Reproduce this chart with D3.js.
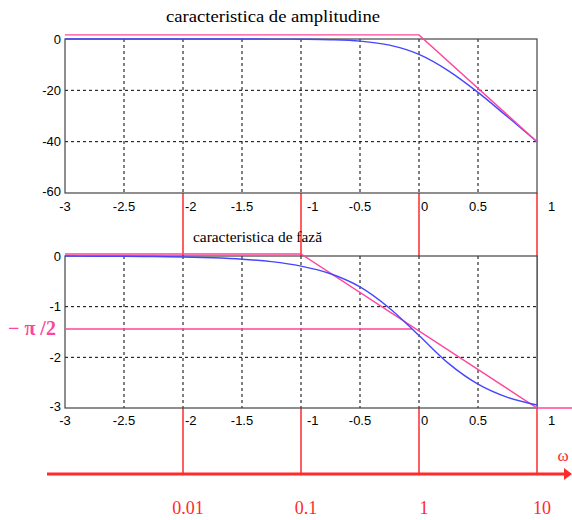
<!DOCTYPE html>
<html>
<head>
<meta charset="utf-8">
<title>Bode</title>
<style>
  body { margin: 0; background: white; }
  svg text { font-family: "Liberation Sans", Arial, sans-serif; }
  .title { font-family: "Liberation Serif", "Times New Roman", serif; }
  .grid line { stroke: #000; stroke-dasharray: 3,3; stroke-width: 1; }
  .tick-label { font-size: 13px; fill: #000; }
</style>
</head>
<body>
<svg id="chart" width="572" height="520"></svg>
<script src="https://cdn.jsdelivr.net/npm/d3@7/dist/d3.min.js"></script>
<script>
// log10(omega) sample points
var logW = [-3, -2.75, -2.5, -2.25, -2, -1.75, -1.5, -1.25, -1, -0.75, -0.5, -0.25, 0, 0.25, 0.5, 0.75, 1];
// amplitude (dB), blue curve
var magDb = [0, 0, 0, 0, 0, 0, -0.01, -0.03, -0.09, -0.27, -0.83, -2.4, -6.0, -12.4, -20.8, -30.3, -40];
// phase (rad), blue curve
var phase = [0, -0.004, -0.006, -0.011, -0.02, -0.036, -0.063, -0.112, -0.2, -0.35, -0.61, -1.03, -1.57, -2.12, -2.53, -2.79, -2.94];

// asymptotes (pink)
var magAsymX = [-3, 0, 1];
var magAsymY = [1.6, 1.6, -40];
var phAsymX = [-3, -1, 1, 1.3];
var phAsymY = [0.04, 0.04, -3, -3];
var halfPiX = [-3, -0.06];
var halfPiY = [-1.44, -1.44];

var xTicks = [-3, -2.5, -2, -1.5, -1, -0.5, 0, 0.5, 1];
var magTicks = [0, -20, -40, -60];
var phTicks = [0, -1, -2, -3];
var decades = [-2, -1, 0, 1];
var decadeLabels = ["0.01", "0.1", "1", "10"];

var red = "#ff2a2a", pink = "#ff449c", blue = "#4646ff", frame = "#444";

var svg = d3.select("#chart");

var x = d3.scaleLinear().domain([-3, 1]).range([65, 537]);
var yMag = d3.scaleLinear().domain([-60, 0]).range([193, 39]);
var yPh = d3.scaleLinear().domain([-3, 0]).range([408, 256]);

// plain hyphen labels like the original figure
var fmt = d => String(d);

// red decade lines (behind the plot areas)
svg.selectAll(".dec").data(decades).enter().append("line")
  .attr("x1", d => x(d)).attr("x2", d => x(d))
  .attr("y1", yMag(-60)).attr("y2", 474)
  .attr("stroke", red).attr("stroke-width", 1.5);

function panel(y, yTicks, labelY, offsets) {
  var g = svg.append("g");
  g.append("rect")
    .attr("x", x(-3)).attr("y", y.range()[1])
    .attr("width", x(1) - x(-3)).attr("height", y.range()[0] - y.range()[1])
    .attr("fill", "white");

  var grid = g.append("g").attr("class", "grid");
  grid.selectAll(".vx").data(xTicks.slice(1, -1)).enter().append("line")
    .attr("x1", d => x(d)).attr("x2", d => x(d))
    .attr("y1", y.range()[1]).attr("y2", y.range()[0]);
  grid.selectAll(".hy").data(yTicks.slice(1, -1)).enter().append("line")
    .attr("x1", x(-3)).attr("x2", x(1))
    .attr("y1", d => y(d)).attr("y2", d => y(d));

  // frame
  g.append("rect")
    .attr("x", x(-3)).attr("y", y.range()[1])
    .attr("width", x(1) - x(-3)).attr("height", y.range()[0] - y.range()[1])
    .attr("fill", "none").attr("stroke", frame).attr("stroke-width", 1.2);

  // y tick labels
  g.selectAll(".yl").data(yTicks).enter().append("text")
    .attr("class", "tick-label")
    .attr("x", x(-3) - 4)
    .attr("y", (d, i) => y(d) + (i == yTicks.length - 1 ? -2 : 0))
    .attr("dy", "0.35em")
    .attr("text-anchor", "end")
    .text(fmt);

  // x tick labels
  g.selectAll(".xl").data(xTicks).enter().append("text")
    .attr("class", "tick-label")
    .attr("x", d => x(d) + (offsets[d] || 0))
    .attr("y", labelY)
    .attr("dy", "0.35em")
    .attr("text-anchor", d => offsets[d] ? "start" : "middle")
    .text(fmt);
  return g;
}

var xOffsets = {"-2": 2, "-1": 6, "0": 2, "1": 11};
panel(yMag, magTicks, 206, xOffsets);
panel(yPh, phTicks, 420, xOffsets);

function draw(xs, ys, y, color, curve) {
  var l = d3.line().x(d => x(d[0])).y(d => y(d[1]));
  if (curve) l.curve(curve);
  svg.append("path")
    .datum(xs.map((v, i) => [v, ys[i]]))
    .attr("d", l)
    .attr("fill", "none")
    .attr("stroke", color)
    .attr("stroke-width", 1.4);
}

draw(logW, magDb, yMag, blue, d3.curveMonotoneX);
draw(magAsymX, magAsymY, yMag, pink);
draw(halfPiX, halfPiY, yPh, pink);
draw(phAsymX, phAsymY, yPh, pink);
draw(logW, phase, yPh, blue, d3.curveMonotoneX);

// titles
svg.append("text").attr("class", "title")
  .attr("x", 166).attr("y", 22)
  .attr("textLength", 214).attr("lengthAdjust", "spacingAndGlyphs")
  .style("font-size", "16px")
  .text("caracteristica de amplitudine");
svg.append("text").attr("class", "title")
  .attr("x", 193).attr("y", 242)
  .attr("textLength", 129).attr("lengthAdjust", "spacingAndGlyphs")
  .style("font-size", "14.5px")
  .text("caracteristica de fază");

// -pi/2 label
svg.append("text").attr("class", "title")
  .attr("x", 8).attr("y", 335)
  .attr("fill", pink)
  .style("font-size", "20px").style("font-weight", "bold")
  .text("− π /2");

// omega axis arrow
svg.append("line")
  .attr("x1", 47).attr("x2", 565)
  .attr("y1", 474).attr("y2", 474)
  .attr("stroke", red).attr("stroke-width", 3);
svg.append("path")
  .attr("d", "M564,468 L572,474 L564,480 Z")
  .attr("fill", red);
svg.append("text").attr("class", "title")
  .attr("x", 563).attr("y", 461)
  .attr("text-anchor", "middle")
  .attr("fill", red)
  .style("font-size", "17px")
  .text("ω");

svg.selectAll(".declab").data(decades).enter().append("text")
  .attr("class", "title")
  .attr("x", d => x(d) + 5)
  .attr("y", 514)
  .attr("text-anchor", "middle")
  .attr("fill", red)
  .style("font-size", "18px")
  .text((d, i) => decadeLabels[i]);
</script>
</body>
</html>
